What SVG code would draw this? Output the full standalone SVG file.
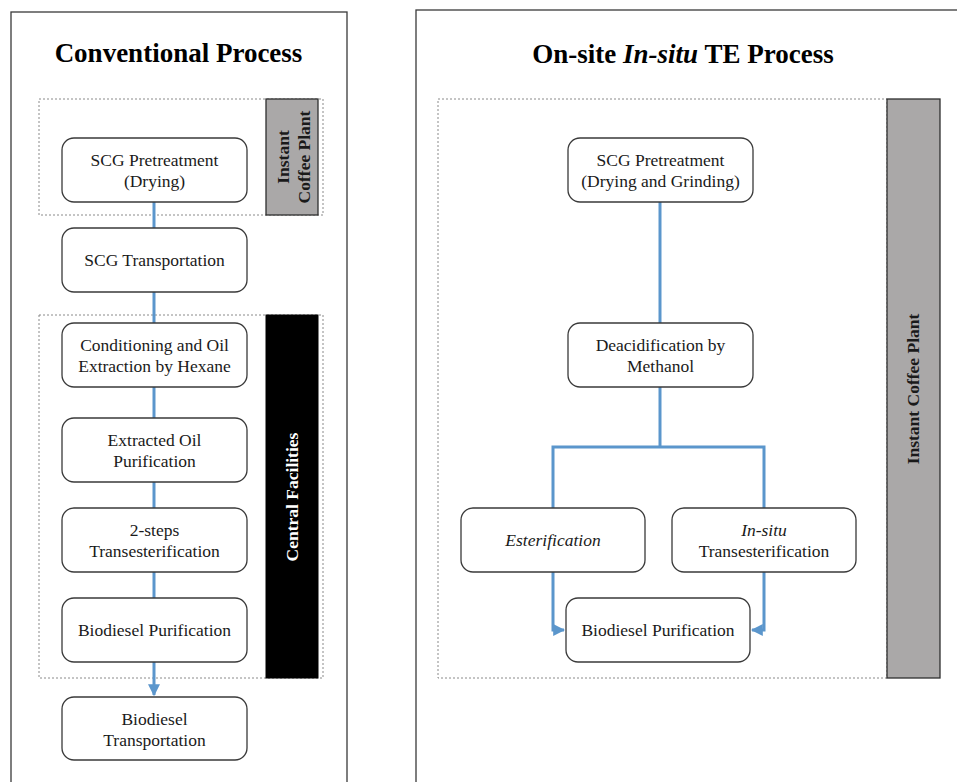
<svg xmlns="http://www.w3.org/2000/svg" width="957" height="782" viewBox="0 0 957 782" font-family="'Liberation Serif', 'Times New Roman', serif">
  <defs>
    <style>
      .panel { fill: #ffffff; stroke: #3a3a3a; stroke-width: 1.3; }
      .zone { fill: none; stroke: #8a8a8a; stroke-width: 1; stroke-dasharray: 2 2; }
      .band-gray { fill: #aaa8a8; stroke: #2e2e2e; stroke-width: 1.3; }
      .band-black { fill: #000000; stroke: #000000; stroke-width: 1; }
      .box { fill: #ffffff; stroke: #3a3a3a; stroke-width: 1.3; }
      .lbl { font-family: 'Liberation Serif', 'Times New Roman', serif; font-size: 17.5px; fill: #1a1a1a; text-anchor: middle; }
      .title { font-family: 'Liberation Serif', 'Times New Roman', serif; font-size: 27px; font-weight: bold; fill: #000; text-anchor: middle; }
      .vlab { font-family: 'Liberation Serif', 'Times New Roman', serif; font-size: 17.5px; font-weight: bold; text-anchor: middle; }
      .flow { fill: none; stroke: #5b96cc; stroke-width: 3; }
    </style>
    <marker id="arr" viewBox="0 0 10 10" refX="9" refY="5" markerWidth="4" markerHeight="4" markerUnits="strokeWidth" orient="auto">
      <path d="M0,0 L10,5 L0,10 Z" fill="#5b96cc"/>
    </marker>
  </defs>

  <rect width="957" height="782" fill="#ffffff"/>

  <!-- Left panel: conventional process -->
  <g id="panel-conventional">
    <rect class="panel" x="11" y="12" width="336" height="800"/>
    <text class="title" x="178.5" y="62">Conventional Process</text>
    <rect class="zone" x="39" y="99" width="284" height="116"/>
    <rect class="zone" x="39" y="315" width="284" height="363"/>
  </g>

  <g id="zone-instant-left">
    <rect class="band-gray" x="266" y="99" width="52" height="116"/>
    <text class="vlab" fill="#1a1a1a" transform="translate(289,157) rotate(-90)">Instant</text>
    <text class="vlab" fill="#1a1a1a" transform="translate(310,157) rotate(-90)">Coffee Plant</text>
  </g>

  <g id="zone-central">
    <rect class="band-black" x="266" y="315" width="52" height="363"/>
    <text class="vlab" fill="#ffffff" transform="translate(298,497) rotate(-90)">Central Facilities</text>
  </g>

  <!-- Right panel: on-site in-situ TE process -->
  <g id="panel-onsite">
    <rect class="panel" x="416" y="10" width="600" height="800"/>
    <text class="title" x="683" y="63">On-site <tspan font-style="italic">In-situ</tspan> TE Process</text>
    <rect class="zone" x="438" y="99" width="449" height="579"/>
  </g>

  <g id="zone-instant-right">
    <rect class="band-gray" x="887" y="99" width="53" height="579"/>
    <text class="vlab" fill="#1a1a1a" transform="translate(919,389) rotate(-90)">Instant Coffee Plant</text>
  </g>

  <!-- Connectors -->
  <g id="connectors">
    <path class="flow" d="M154,202 V228"/>
    <path class="flow" d="M154,292 V323"/>
    <path class="flow" d="M154,387 V418"/>
    <path class="flow" d="M154,482 V508"/>
    <path class="flow" d="M154,572 V598"/>
    <path class="flow" d="M154,662 V695" marker-end="url(#arr)"/>

    <path class="flow" d="M660,202 V323"/>
    <path class="flow" d="M660,387 V447"/>
    <path class="flow" d="M553,508 V447 H764 V508"/>
    <path class="flow" d="M553,572 V630 H564" marker-end="url(#arr)"/>
    <path class="flow" d="M764,572 V630 H752" marker-end="url(#arr)"/>
  </g>

  <!-- Left nodes -->
  <g id="n-pretreat-left">
    <rect class="box" x="62" y="138" width="185" height="64" rx="12"/>
    <text class="lbl" x="154.5" y="166">SCG Pretreatment</text>
    <text class="lbl" x="154.5" y="187">(Drying)</text>
  </g>
  <g id="n-scg-transport">
    <rect class="box" x="62" y="228" width="185" height="64" rx="12"/>
    <text class="lbl" x="154.5" y="266">SCG Transportation</text>
  </g>
  <g id="n-extraction">
    <rect class="box" x="62" y="323" width="185" height="64" rx="12"/>
    <text class="lbl" x="154.5" y="351">Conditioning and Oil</text>
    <text class="lbl" x="154.5" y="372">Extraction by Hexane</text>
  </g>
  <g id="n-oil-purification">
    <rect class="box" x="62" y="418" width="185" height="64" rx="12"/>
    <text class="lbl" x="154.5" y="446">Extracted Oil</text>
    <text class="lbl" x="154.5" y="467">Purification</text>
  </g>
  <g id="n-two-step">
    <rect class="box" x="62" y="508" width="185" height="64" rx="12"/>
    <text class="lbl" x="154.5" y="536">2-steps</text>
    <text class="lbl" x="154.5" y="557">Transesterification</text>
  </g>
  <g id="n-biodiesel-purification-left">
    <rect class="box" x="62" y="598" width="185" height="64" rx="12"/>
    <text class="lbl" x="154.5" y="636">Biodiesel Purification</text>
  </g>
  <g id="n-biodiesel-transport">
    <rect class="box" x="62" y="697" width="185" height="63" rx="12"/>
    <text class="lbl" x="154.5" y="725">Biodiesel</text>
    <text class="lbl" x="154.5" y="746">Transportation</text>
  </g>

  <!-- Right nodes -->
  <g id="n-pretreat-right">
    <rect class="box" x="568" y="138" width="185" height="64" rx="12"/>
    <text class="lbl" x="660.5" y="166">SCG Pretreatment</text>
    <text class="lbl" x="660.5" y="187">(Drying and Grinding)</text>
  </g>
  <g id="n-deacidification">
    <rect class="box" x="568" y="323" width="185" height="64" rx="12"/>
    <text class="lbl" x="660.5" y="351">Deacidification by</text>
    <text class="lbl" x="660.5" y="372">Methanol</text>
  </g>
  <g id="n-esterification">
    <rect class="box" x="461" y="508" width="184" height="64" rx="12"/>
    <text class="lbl" x="553" y="546" font-style="italic">Esterification</text>
  </g>
  <g id="n-insitu-te">
    <rect class="box" x="672" y="508" width="184" height="64" rx="12"/>
    <text class="lbl" x="764" y="536" font-style="italic">In-situ</text>
    <text class="lbl" x="764" y="557">Transesterification</text>
  </g>
  <g id="n-biodiesel-purification-right">
    <rect class="box" x="566" y="598" width="184" height="64" rx="12"/>
    <text class="lbl" x="658" y="636">Biodiesel Purification</text>
  </g>
</svg>
